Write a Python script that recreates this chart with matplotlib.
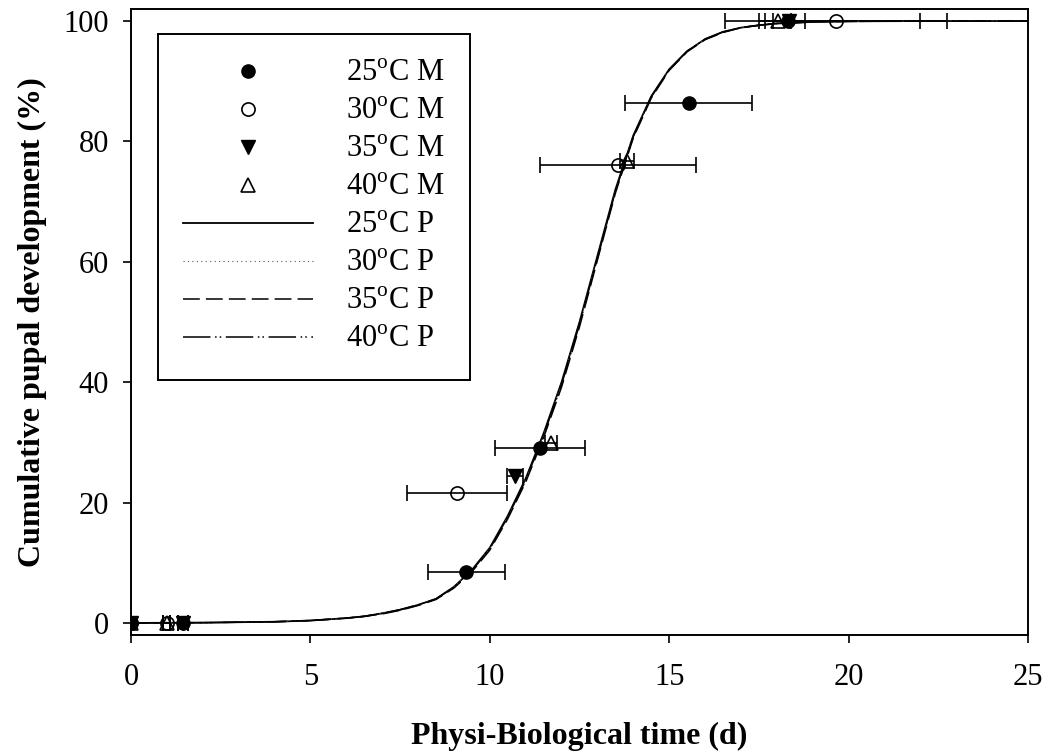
import matplotlib
matplotlib.use('Agg')
import matplotlib.pyplot as plt

plt.rcParams['font.family'] = 'Liberation Serif'
plt.rcParams['mathtext.fontset'] = 'custom'
plt.rcParams['mathtext.rm'] = 'Liberation Serif'

# measured cumulative pupal development (M), mean time with x error
t25 = [0, 1.45, 9.34, 11.40, 15.55, 18.30]
y25 = [0, 0, 8.5, 29.1, 86.4, 100]
e25_lo = [0, 0.14, 1.07, 1.26, 1.77, 0.80]
e25_hi = [0, 0.14, 1.07, 1.26, 1.77, 3.70]

t30 = [0, 1.00, 9.09, 13.57, 19.65]
y30 = [0, 0, 21.6, 76.1, 100]
e30 = [0, 0.10, 1.40, 2.18, 3.10]

t35 = [0, 1.45, 10.70, 18.34]
y35 = [0, 0, 24.4, 100]
e35 = [0, 0.14, 0.22, 0.45]

t40 = [0, 1.00, 11.71, 13.82, 18.03]
y40 = [0, 0, 29.9, 76.7, 100]
e40 = [0, 0.10, 0.17, 0.20, 0.36]

# predicted curves (P)
curve_t = [0, 2, 4, 5, 6, 6.5, 7, 7.5, 8, 8.5, 9, 9.5, 10, 10.5, 11, 11.5,
           12, 12.5, 13, 13.5, 14, 14.5, 15, 15.5, 16, 16.5, 17, 17.5, 18,
           19, 20, 22, 25]
pred25 = [0, 0.05, 0.2, 0.4, 0.8, 1.1, 1.6, 2.2, 3.0, 4.0, 6.0, 8.8, 12.5,
          17.8, 24.0, 31.5, 40.0, 50.0, 61.0, 72.0, 81.0, 87.5, 92.0, 95.0,
          97.0, 98.2, 98.9, 99.3, 99.6, 99.85, 99.95, 100, 100]
pred30 = [0, 0.05, 0.2, 0.4, 0.8, 1.1, 1.6, 2.2, 3.0, 4.0, 6.0, 8.7, 12.4,
          17.6, 23.8, 31.3, 39.8, 49.8, 60.8, 71.8, 80.9, 87.4, 92.0, 95.0,
          97.0, 98.2, 98.9, 99.3, 99.6, 99.85, 99.95, 100, 100]
pred35 = [0, 0.05, 0.2, 0.4, 0.8, 1.1, 1.5, 2.1, 2.9, 3.9, 5.8, 8.5, 12.1,
          17.3, 23.4, 30.8, 39.2, 49.2, 60.3, 71.4, 80.6, 87.2, 91.8, 94.9,
          96.9, 98.1, 98.9, 99.3, 99.6, 99.85, 99.95, 100, 100]
pred40 = [0, 0.05, 0.2, 0.4, 0.8, 1.1, 1.6, 2.2, 3.0, 4.0, 5.9, 8.7, 12.3,
          17.6, 23.7, 31.2, 39.6, 49.6, 60.6, 71.7, 80.8, 87.4, 91.9, 95.0,
          97.0, 98.2, 98.9, 99.3, 99.6, 99.85, 99.95, 100, 100]

fig = plt.figure(figsize=(10.49, 7.52), dpi=100)
ax = fig.add_axes([131 / 1049, 1 - 635 / 752, (1028 - 131) / 1049, (635 - 9) / 752])

# model curves
ax.plot(curve_t, pred25, color='black', lw=1.3, ls='-', label='25$^{\\mathrm{o}}$C P', zorder=3)
ax.plot(curve_t, pred30, color='#555555', lw=0.8, ls=(0, (1, 3)), label='30$^{\\mathrm{o}}$C P', zorder=3)
ax.plot(curve_t, pred35, color='black', lw=1.1, ls=(0, (11, 4)), label='35$^{\\mathrm{o}}$C P', zorder=3)
ax.plot(curve_t, pred40, color='black', lw=1.1, ls=(0, (18, 3, 1, 2, 1, 3)), label='40$^{\\mathrm{o}}$C P', zorder=3)

# error bars on time
eb = dict(fmt='none', ecolor='black', elinewidth=1.2, capsize=6, capthick=1.2, zorder=2)
ax.errorbar(t25, y25, xerr=[e25_lo, e25_hi], **eb)
ax.errorbar(t30, y30, xerr=e30, **eb)
ax.errorbar(t35, y35, xerr=e35, **eb)
ax.errorbar(t40, y40, xerr=e40, **eb)

ms = 9.5
ax.plot(t25, y25, 'o', color='black', ms=ms, label='25$^{\\mathrm{o}}$C M', zorder=4)
ax.plot(t30, y30, 'o', mfc='none', mec='black', mew=1.2, ms=ms, label='30$^{\\mathrm{o}}$C M', zorder=4)
ax.plot(t35, y35, 'v', color='black', ms=ms + 1, label='35$^{\\mathrm{o}}$C M', zorder=4)
ax.plot(t40, y40, '^', mfc='none', mec='black', mew=1.2, ms=ms + 1, label='40$^{\\mathrm{o}}$C M', zorder=4)

ax.set_xlim(0, 25)
ax.set_ylim(-2, 102)
ax.set_xticks([0, 5, 10, 15, 20, 25])
ax.set_yticks([0, 20, 40, 60, 80, 100])
ax.tick_params(direction='out', length=6, width=1.2, labelsize=22)
ax.tick_params(axis='x', pad=14)
ax.tick_params(axis='y', pad=10)
for s in ax.spines.values():
    s.set_linewidth(1.4)

ax.set_xlabel('Physi-Biological time (d)', fontsize=23, fontweight='bold', labelpad=22)
ax.set_ylabel('Cumulative pupal development (%)', fontsize=23, fontweight='bold', labelpad=12)

handles, labels = ax.get_legend_handles_labels()
order = [4, 5, 6, 7, 0, 1, 2, 3]
leg = ax.legend([handles[i] for i in order], [labels[i] for i in order],
                loc='upper left', bbox_to_anchor=(158 / 1049, 1 - 34 / 752),
                bbox_transform=fig.transFigure, borderaxespad=0, fontsize=22,
                handlelength=4.25, handletextpad=1.08, labelspacing=0.294,
                borderpad=0.83, fancybox=False, framealpha=1, edgecolor='black')
leg.get_frame().set_linewidth(1.4)

fig.savefig('out.png', dpi=100)
